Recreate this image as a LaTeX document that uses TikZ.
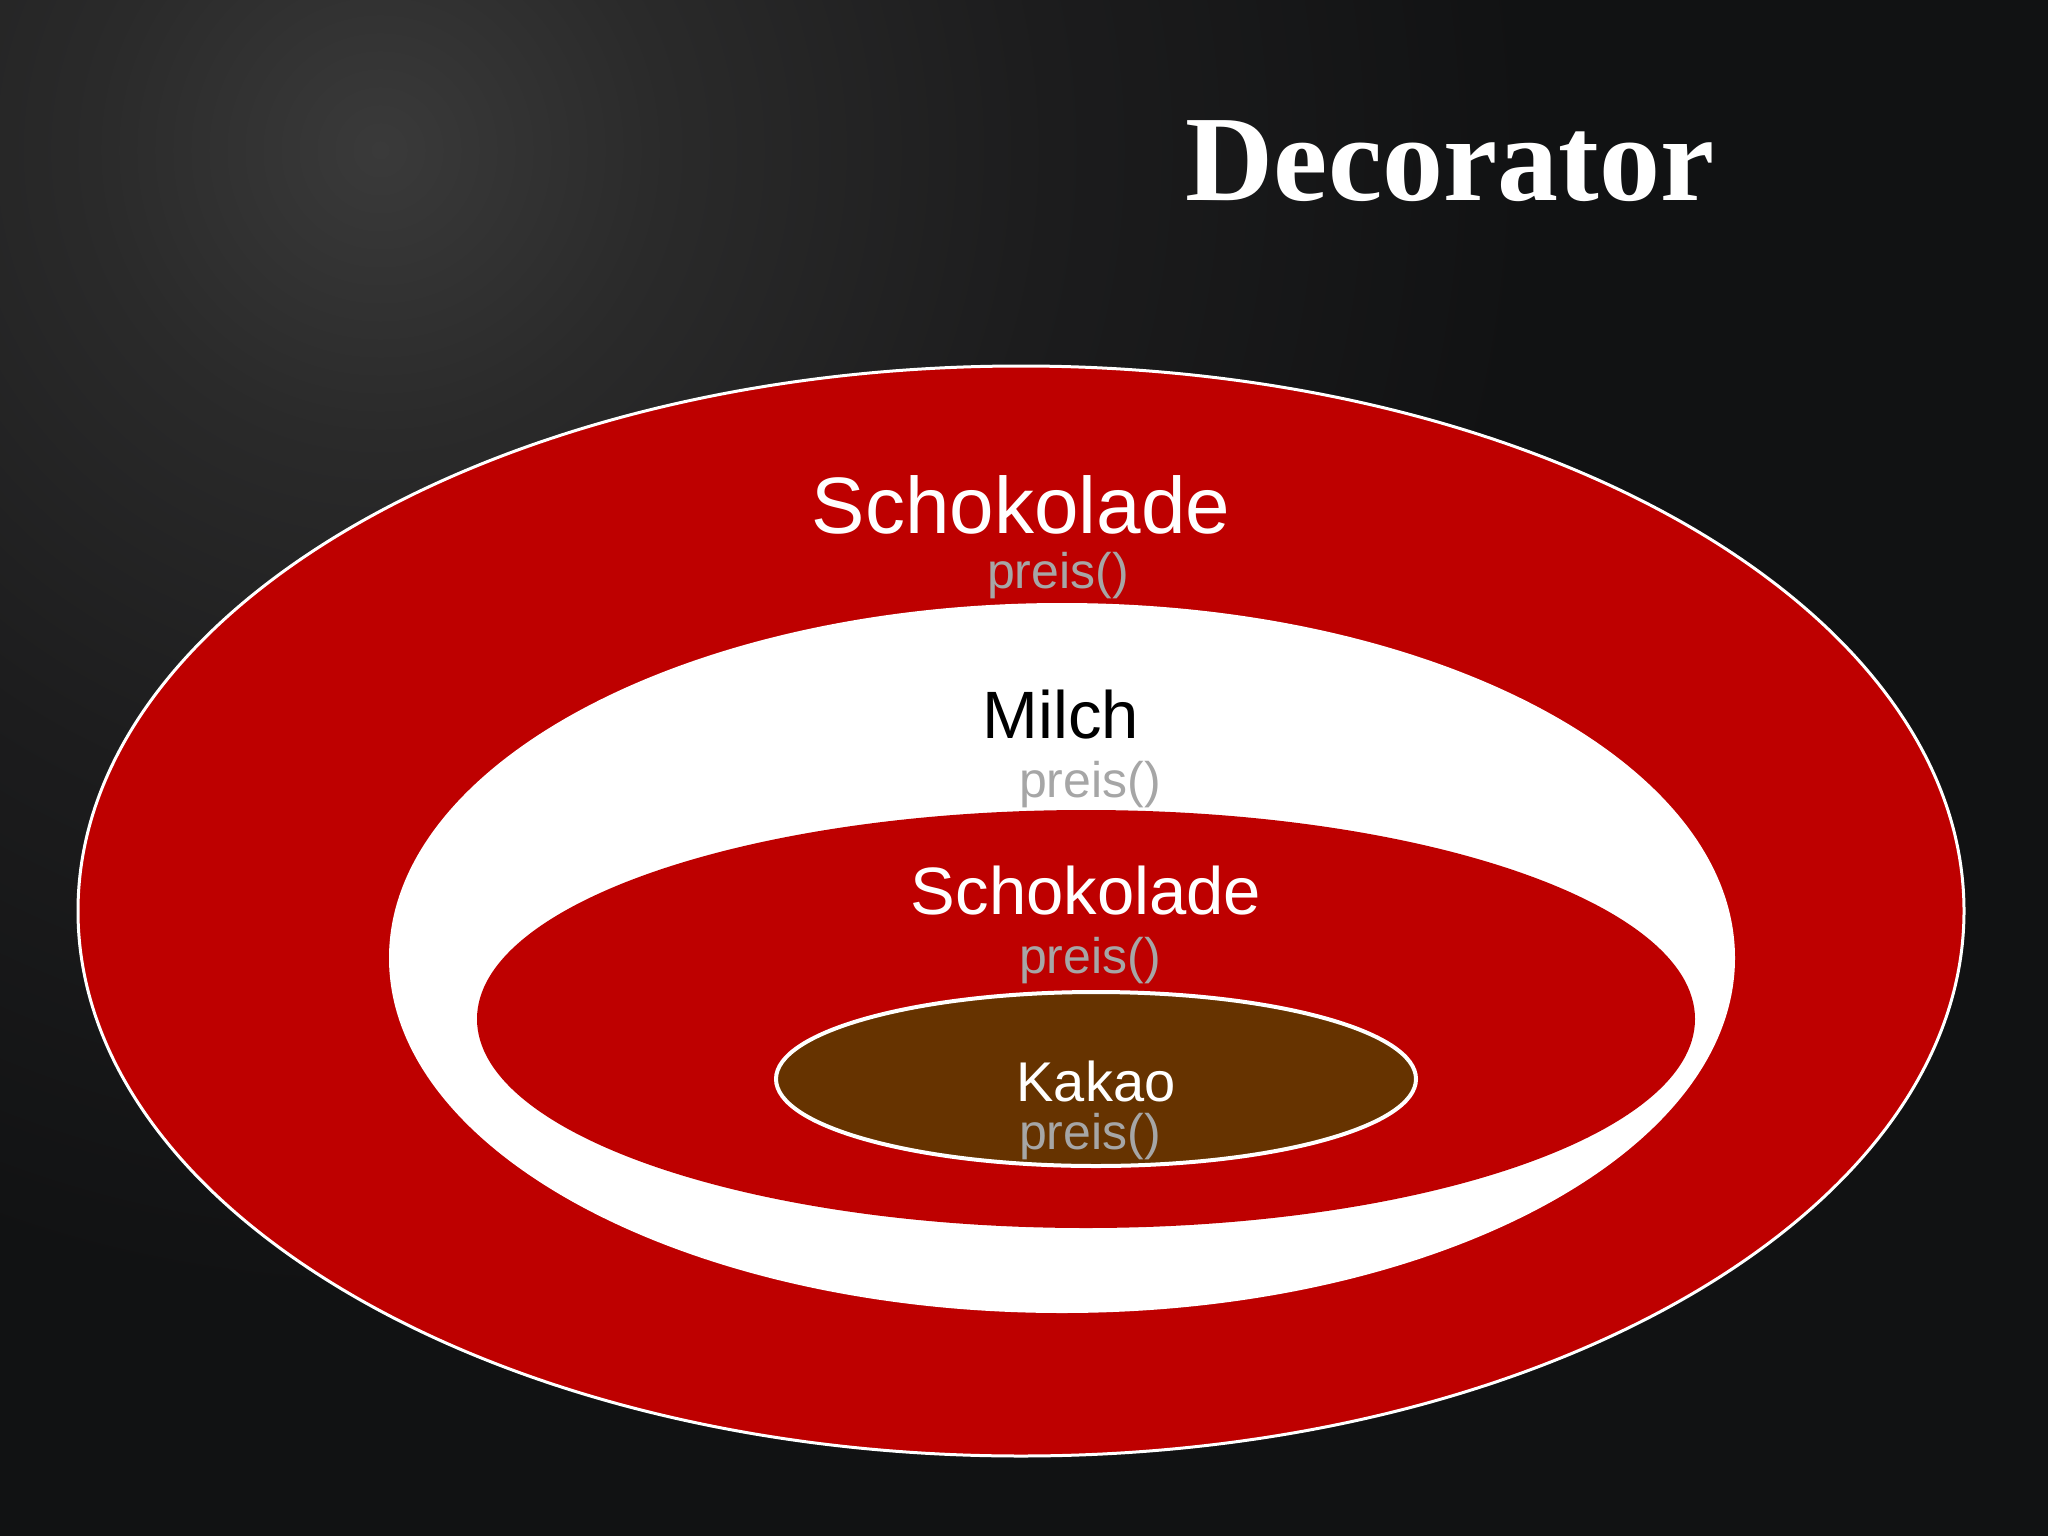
\documentclass[tikz,border=0pt]{standalone}
\usepackage{fontspec}
\setmainfont{Liberation Sans}
\newfontfamily\titlefont{Liberation Serif}
\definecolor{bgD}{HTML}{111213}
\definecolor{bgC}{HTML}{1C1C1D}
\definecolor{bgB}{HTML}{2A2A2A}
\definecolor{bgA}{HTML}{3A3A3A}
\definecolor{choc}{HTML}{BE0000}
\definecolor{cacao}{HTML}{663300}
\definecolor{method}{HTML}{A6A6A6}
\pgfdeclareradialshading{glow}{\pgfpoint{0bp}{0bp}}{color(0bp)=(bgA); color(6bp)=(bgB); color(14bp)=(bgC); color(24bp)=(bgD); color(50bp)=(bgD)}
\tikzset{
  label/.style={anchor=base, inner sep=0pt, font=\fontsize{#1}{#1}\selectfont},
  clsname/.style={label=#1, text=white},
  meth/.style={label=50, text=method},
}
\begin{document}
\begin{tikzpicture}[x=1pt,y=-1pt]
\useasboundingbox (0,0) rectangle (2048,1536);
\begin{scope}
\clip (0,0) rectangle (2048,1536);
\fill[bgD] (0,0) rectangle (2048,1536);
\shade[shading=glow] (380,150) circle[radius=1200pt];
\end{scope}
% ellipses
\fill[choc, draw=white, line width=3pt] (1021,911) ellipse [x radius=943pt, y radius=545pt];
\fill[white] (1062,958) ellipse [x radius=673pt, y radius=355pt];
\fill[choc] (1086,1019) ellipse [x radius=609pt, y radius=209pt];
\fill[cacao, draw=white, line width=4pt] (1096,1079) ellipse [x radius=320pt, y radius=87pt];
% title
\node[anchor=base, inner sep=0pt, text=white, font=\titlefont\bfseries\fontsize{122}{122}\selectfont] (title) at (1450,200) {Decorator};
% labels
\node[clsname=80] (s1) at (1021,533) {Schokolade};
\node[meth] (p1) at (1058,588) {preis()};
\node[label=67, text=black] (m) at (1061,738) {Milch};
\node[meth] (p2) at (1090,797) {preis()};
\node[clsname=67] (s2) at (1086,914) {Schokolade};
\node[meth] (p3) at (1090,973) {preis()};
\node[clsname=56] (k) at (1096,1101) {Kakao};
\node[meth] (p4) at (1090,1149) {preis()};
\end{tikzpicture}
\end{document}
